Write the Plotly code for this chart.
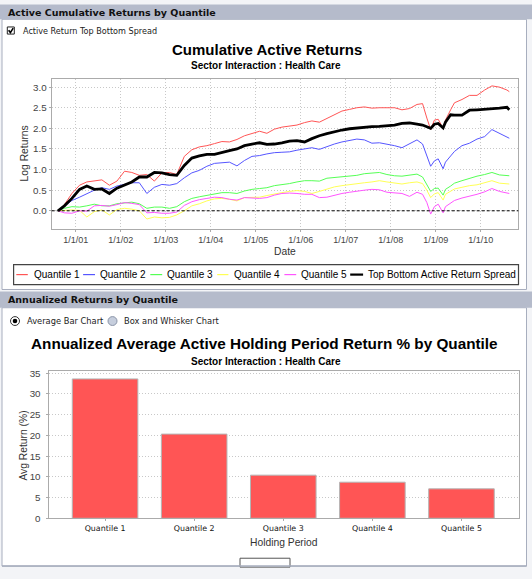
import plotly.graph_objects as go

W, H = 532, 579

# cumulative active log returns
dates = [
    "2000-08-10", "2000-10-01", "2000-12-01",
    "2001-02-01", "2001-04-01", "2001-06-01", "2001-08-01", "2001-10-01", "2001-12-01",
    "2002-02-01", "2002-04-01", "2002-06-01", "2002-08-01", "2002-10-01", "2002-12-01",
    "2003-02-01", "2003-04-01", "2003-06-01", "2003-08-01", "2003-10-01", "2003-12-01",
    "2004-02-01", "2004-04-01", "2004-06-01", "2004-08-01", "2004-10-01", "2004-12-01",
    "2005-02-01", "2005-04-01", "2005-06-01", "2005-08-01", "2005-10-01", "2005-12-01",
    "2006-02-01", "2006-04-01", "2006-06-01", "2006-08-01", "2006-10-01", "2006-12-01",
    "2007-02-01", "2007-04-01", "2007-06-01", "2007-08-01", "2007-10-01", "2007-12-01",
    "2008-02-01", "2008-04-01", "2008-06-01", "2008-08-01", "2008-09-15", "2008-10-20", "2008-11-20", "2008-12-20",
    "2009-01-20", "2009-03-01", "2009-03-20", "2009-05-01", "2009-06-01", "2009-08-01", "2009-10-01", "2009-12-01",
    "2010-02-01", "2010-04-01", "2010-06-01", "2010-08-01", "2010-08-20",
]

quantile_1 = [
    0, 0.15, 0.42,
    0.62, 0.70, 0.73, 0.75, 0.62, 0.72,
    0.96, 0.93, 0.86, 0.88, 0.72, 0.92,
    0.93, 0.88, 1.32, 1.48, 1.55, 1.58,
    1.63, 1.68, 1.67, 1.73, 1.82, 1.88,
    1.93, 1.88, 1.98, 2.03, 2.05, 2.08,
    2.14, 2.18, 2.15, 2.24, 2.35, 2.42,
    2.46, 2.50, 2.52, 2.49, 2.50, 2.50,
    2.50, 2.45, 2.48, 2.58, 2.60, 2.25, 1.97, 2.20,
    2.22, 2.00, 2.20, 2.45, 2.62, 2.70, 2.80, 2.80,
    2.93, 3.03, 3.00, 2.93, 2.89,
]
quantile_2 = [
    0, 0.12, 0.25,
    0.33, 0.42, 0.50, 0.56, 0.52, 0.60,
    0.64, 0.68, 0.68, 0.42, 0.57, 0.64,
    0.62, 0.66, 0.80, 0.92, 0.98, 1.08,
    1.15, 1.16, 1.18, 1.09, 1.22, 1.32,
    1.34, 1.38, 1.41, 1.42, 1.43, 1.47,
    1.50, 1.53, 1.49, 1.56, 1.62, 1.67,
    1.70, 1.74, 1.72, 1.64, 1.65, 1.62,
    1.58, 1.53, 1.62, 1.72, 1.62, 1.33, 1.08, 1.21,
    1.26, 1.02, 1.18, 1.33, 1.44, 1.58, 1.64, 1.74,
    1.80, 1.97, 1.88, 1.78, 1.76,
]
quantile_3 = [
    0, 0.06, 0.10,
    0.09, 0.12, 0.16, 0.12, 0.12, 0.17,
    0.20, 0.21, 0.17, 0.06, 0.09, 0.09,
    0.06, 0.10, 0.22, 0.30, 0.34, 0.37,
    0.41, 0.44, 0.44, 0.42, 0.48, 0.52,
    0.54, 0.56, 0.61, 0.63, 0.66, 0.70,
    0.73, 0.73, 0.72, 0.79, 0.81, 0.82,
    0.84, 0.86, 0.90, 0.92, 0.93, 0.88,
    0.85, 0.84, 0.86, 0.89, 0.82, 0.62, 0.47, 0.54,
    0.55, 0.38, 0.52, 0.60, 0.67, 0.73, 0.79, 0.84,
    0.88, 0.93, 0.87, 0.86, 0.85,
]
quantile_4 = [
    0, 0.01, 0.02,
    0.01, -0.15, -0.02, 0.02, -0.10, 0.03,
    0.06, 0.04, 0.00, -0.20, -0.15, -0.17,
    -0.16, -0.10, 0.00, 0.12, 0.17, 0.24,
    0.29, 0.30, 0.28, 0.24, 0.32, 0.33,
    0.33, 0.37, 0.41, 0.44, 0.47, 0.49,
    0.47, 0.42, 0.47, 0.52, 0.58, 0.61,
    0.64, 0.66, 0.68, 0.70, 0.73, 0.70,
    0.67, 0.65, 0.68, 0.70, 0.66, 0.50, 0.32, 0.41,
    0.44, 0.26, 0.40, 0.48, 0.53, 0.57, 0.61, 0.63,
    0.68, 0.73, 0.67, 0.65, 0.65,
]
quantile_5 = [
    0, -0.05, -0.06,
    0.00, -0.01, 0.12, 0.13, 0.11, 0.15,
    0.20, 0.18, 0.15, -0.05, -0.04, -0.06,
    -0.06, -0.03, 0.13, 0.22, 0.27, 0.30,
    0.33, 0.32, 0.28, 0.26, 0.32, 0.31,
    0.30, 0.32, 0.38, 0.42, 0.43, 0.42,
    0.40, 0.40, 0.32, 0.33, 0.38, 0.42,
    0.45, 0.48, 0.50, 0.52, 0.51, 0.45,
    0.44, 0.42, 0.35, 0.45, 0.40, 0.20, -0.08, 0.10,
    0.16, -0.05, 0.10, 0.18, 0.25, 0.31, 0.35, 0.40,
    0.46, 0.54, 0.47, 0.43, 0.42,
]
spread = [
    0, 0.12, 0.30,
    0.52, 0.60, 0.52, 0.53, 0.42, 0.55,
    0.62, 0.70, 0.82, 0.82, 0.93, 0.92,
    0.88, 0.86, 1.10, 1.28, 1.33, 1.37,
    1.37, 1.42, 1.46, 1.50, 1.58, 1.62,
    1.65, 1.61, 1.62, 1.65, 1.69, 1.70,
    1.67, 1.75, 1.82, 1.87, 1.92, 1.96,
    1.99, 2.01, 2.02, 2.04, 2.05, 2.06,
    2.08, 2.12, 2.13, 2.10, 2.08, 2.04, 2.00, 2.10,
    2.12, 2.01, 2.15, 2.33, 2.32, 2.32, 2.44, 2.45,
    2.46, 2.47, 2.49, 2.51, 2.45,
]

series_names = ["Quantile 1", "Quantile 2", "Quantile 3", "Quantile 4", "Quantile 5",
                "Top Bottom Active Return Spread"]
series_values = [quantile_1, quantile_2, quantile_3, quantile_4, quantile_5, spread]
series_colors = ["#FF5555", "#5555FF", "#55FF55", "#FFFF55", "#FF55FF", "#000000"]

year_ticks = ["2001-01-01", "2002-01-01", "2003-01-01", "2004-01-01", "2005-01-01",
              "2006-01-01", "2007-01-01", "2008-01-01", "2009-01-01", "2010-01-01"]
year_labels = ["1/1/01", "1/1/02", "1/1/03", "1/1/04", "1/1/05",
               "1/1/06", "1/1/07", "1/1/08", "1/1/09", "1/1/10"]

# annualized average active holding period return (%)
quantiles = ["Quantile 1", "Quantile 2", "Quantile 3", "Quantile 4", "Quantile 5"]
avg_return = [33.6, 20.3, 10.4, 8.7, 7.1]


def X(px):
    return px / W


def Y(py):
    return 1 - py / H


fig = go.Figure()

# linhas
for name, vals, col in zip(series_names, series_values, series_colors):
    fig.add_trace(go.Scatter(x=dates, y=vals, mode="lines", name=name, showlegend=False,
                             line=dict(color=col, width=2.8 if col == "#000000" else 1),
                             xaxis="x", yaxis="y"))

# barras
fig.add_trace(go.Bar(x=quantiles, y=avg_return, width=0.736, showlegend=False,
                     marker=dict(color="#FF5555", line=dict(color="#B5B5B5", width=1)),
                     xaxis="x2", yaxis="y2"))

grid = dict(showgrid=True, gridcolor="#C8C8C8", griddash="1px,2px", gridwidth=1)
frame = dict(showline=True, mirror=True, linecolor="#ABABAB", linewidth=1, zeroline=False,
             ticks="outside", ticklen=2, tickcolor="#ABABAB")
tick_font = dict(family="Liberation Sans", size=9.8, color="#444444")

fig.update_layout(
    width=W, height=H, autosize=False,
    margin=dict(l=0, r=0, t=0, b=0, pad=0),
    paper_bgcolor="#F3F4F7", plot_bgcolor="rgba(0,0,0,0)",
    xaxis=dict(type="date", domain=[X(51.7), X(518.3)], range=["2000-06-20", "2010-11-01"],
               tickvals=year_ticks, ticktext=year_labels,
               tickfont=dict(family="Liberation Sans", size=9, color="#444444"),
               anchor="y", **grid, **frame),
    yaxis=dict(domain=[Y(229.3), Y(76.7)], range=[-0.445, 3.206], tick0=0, dtick=0.5,
               tickformat=".1f", tickfont=tick_font, anchor="x", **grid, **frame),
    xaxis2=dict(type="category", domain=[X(48.5), X(518.5)], range=[-0.635, 4.64],
                tickfont=dict(family="DejaVu Sans", size=7.9, color="#111111"),
                showgrid=False, anchor="y2", **frame),
    yaxis2=dict(domain=[Y(522.5), Y(373)], range=[0, 35.55], tick0=0, dtick=5,
                tickfont=tick_font, ticklabelstandoff=3, anchor="x2", **grid, **frame),
)

shapes = []


def rect(x0, y0, x1, y1, **kw):
    shapes.append(dict(type="rect", xref="paper", yref="paper",
                       x0=X(x0), x1=X(x1), y0=Y(y1), y1=Y(y0), **kw))


def seg(x0, y0, x1, y1, color, width, dash="solid"):
    shapes.append(dict(type="line", xref="paper", yref="paper",
                       x0=X(x0), x1=X(x1), y0=Y(y0), y1=Y(y1),
                       line=dict(color=color, width=width, dash=dash)))


header = "#B5BBCB"
border = "#A7AEBE"

# painel de cima
rect(2, 16.5, 526.5, 290.5, fillcolor="white", line=dict(color=border, width=1), layer="below")
rect(0, 1.5, 532, 16.5, fillcolor=header, line=dict(width=0), layer="below")
# painel de baixo
rect(2, 309, 526.5, 571, fillcolor="white", line=dict(color=border, width=1), layer="below")
rect(0, 292.5, 532, 309, fillcolor=header, line=dict(width=0), layer="below")

# checkbox
rect(7.3, 24.3, 14.3, 31.5, fillcolor="white", line=dict(color="#222222", width=1))
shapes.append(dict(type="path", xref="paper", yref="paper",
                   path=f"M {X(8.6)},{Y(27.6)} L {X(10.4)},{Y(30.0)} L {X(13.2)},{Y(25.4)}",
                   line=dict(color="black", width=1.6)))

# radio buttons
shapes.append(dict(type="circle", xref="paper", yref="paper", x0=X(10.5), x1=X(19.5),
                   y0=Y(327), y1=Y(318), fillcolor="white", line=dict(color="#333333", width=1)))
shapes.append(dict(type="circle", xref="paper", yref="paper", x0=X(12.7), x1=X(17.3),
                   y0=Y(324.8), y1=Y(320.2), fillcolor="black", line=dict(width=0)))
shapes.append(dict(type="circle", xref="paper", yref="paper", x0=X(108), x1=X(117),
                   y0=Y(327), y1=Y(318), fillcolor="#C6CEDD", line=dict(color="#8A94A8", width=1)))

# legenda
rect(13.6, 265.2, 518.5, 285.5, line=dict(color="#444444", width=1.2))
legend_line_x = [(16.3, 27.8), (83.1, 95.0), (150.3, 162.2), (217.2, 228.4), (284.4, 296.2), (350.2, 363.1)]
legend_text_x = [32.2, 98.4, 165.3, 232.1, 299.3, 365.8]
for (a, b), col in zip(legend_line_x, series_colors):
    seg(a, 275.4, b, 275.4, col, 2.2 if col == "#000000" else 1.2)

# linha zero tracejada
shapes.append(dict(type="line", xref="x domain", yref="y", x0=0, x1=1, y0=0, y1=0,
                   line=dict(color="black", width=1, dash="3px,2px")))

# botão cortado embaixo
rect(240, 563, 290, 572, fillcolor="white", line=dict(color="#555555", width=1))
seg(2, 571, 526.5, 571, border, 1.5)

fig.update_layout(shapes=shapes)

anns = []


def text(s, x, y, size, family="Liberation Sans", bold=False, anchor="left", color="#111111", angle=0):
    anns.append(dict(text=s, x=X(x), y=Y(y), xref="paper", yref="paper", showarrow=False,
                     xanchor=anchor, yanchor="middle", textangle=angle,
                     font=dict(family=family, size=size, color=color,
                               weight="bold" if bold else "normal")))


text("Active Cumulative Returns by Quantile", 6, 9.5, 9.5, "DejaVu Sans", True)
text("Active Return Top Bottom Spread", 20.7, 27.9, 8.1, "DejaVu Sans", color="#222222")
text("Cumulative Active Returns", 267, 47, 15, bold=True, anchor="center", color="black")
text("Sector Interaction : Health Care", 266, 63.5, 10, bold=True, anchor="center", color="black")
text("Log Returns", 24, 152.5, 10.3, anchor="center", color="#333333", angle=-90)
text("Date", 285, 252, 10.3, anchor="center", color="#333333")
for name, x0 in zip(series_names, legend_text_x):
    text(name, x0, 275.6, 10, color="black")

text("Annualized Returns by Quantile", 6, 301, 9.5, "DejaVu Sans", True)
text("Average Bar Chart", 25.4, 322.6, 8.3, "DejaVu Sans", color="#222222")
text("Box and Whisker Chart", 121.5, 322.6, 8.3, "DejaVu Sans", color="#222222")
text("Annualized Average Active Holding Period Return % by Quantile", 264, 345, 15.3,
     bold=True, anchor="center", color="black")
text("Sector Interaction : Health Care", 266, 363.5, 10, bold=True, anchor="center", color="black")
text("Avg Return (%)", 23.8, 449, 10.3, anchor="center", color="#333333", angle=-90)
text("Holding Period", 283.5, 547.5, 10.3, anchor="center", color="#333333")

fig.update_layout(annotations=anns)

fig.write_html("out.html", config={"displayModeBar": False},
               post_script="document.body.style.margin='0';document.body.style.overflow='hidden';")
